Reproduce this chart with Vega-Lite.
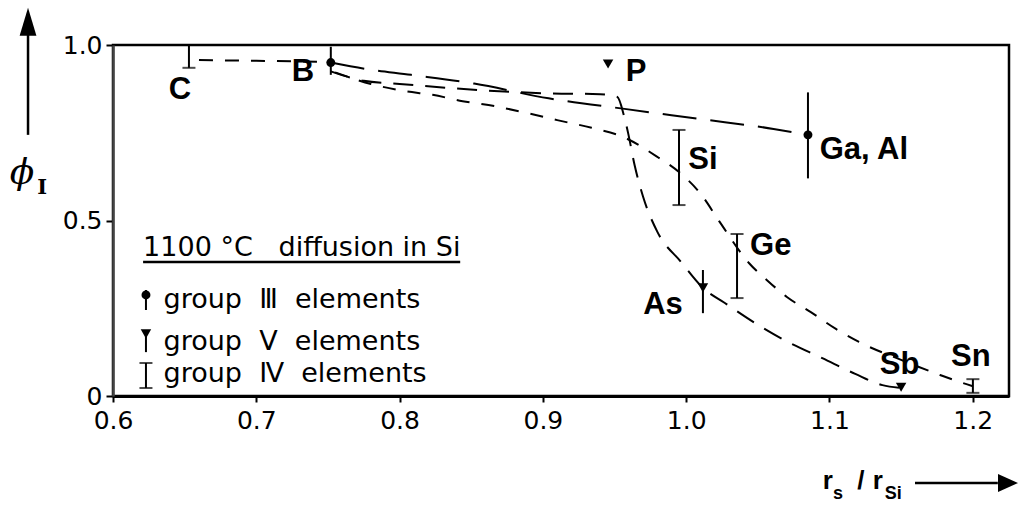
{
  "$schema": "https://vega.github.io/schema/vega-lite/v6.json",
  "width": 896,
  "height": 351,
  "autosize": {"type": "none"},
  "padding": {"left": 113, "top": 45, "right": 10, "bottom": 111},
  "background": "white",
  "config": {
    "view": {"stroke": "black", "strokeWidth": 2.5},
    "font": "Liberation Sans"
  },
  "datasets": {
    "pts": [
      {"el": "C", "grp": "IV", "x": 0.653, "y": 0.965, "lo": 0.935, "hi": 1.0},
      {"el": "B", "grp": "III", "x": 0.752, "y": 0.95, "lo": 0.915, "hi": 0.995},
      {"el": "P", "grp": "V", "x": 0.9455, "y": 0.946},
      {"el": "Si", "grp": "IV", "x": 0.995, "y": 0.65, "lo": 0.544, "hi": 0.758},
      {"el": "Ga, Al", "grp": "III", "x": 1.085, "y": 0.744, "lo": 0.62, "hi": 0.865},
      {"el": "Ge", "grp": "IV", "x": 1.0355, "y": 0.37, "lo": 0.279, "hi": 0.4615},
      {"el": "As", "grp": "V", "x": 1.0117, "y": 0.308, "lo": 0.236, "hi": 0.359},
      {"el": "Sb", "grp": "V", "x": 1.15, "y": 0.025},
      {"el": "Sn", "grp": "IV", "x": 1.2001, "y": 0.028, "lo": 0.009, "hi": 0.048},
      {"el": "key III", "grp": "III", "x": 0.623, "y": 0.288, "lo": 0.245, "hi": 0.302},
      {"el": "key V", "grp": "V", "x": 0.623, "y": 0.177, "lo": 0.125, "hi": 0.177},
      {"el": "key IV", "grp": "IV", "x": 0.623, "y": 0.06, "lo": 0.023, "hi": 0.094}
    ],
    "labels": [
      {"t": "C", "x": 0.6468, "y": 0.872},
      {"t": "B", "x": 0.7326, "y": 0.923},
      {"t": "P", "x": 0.965, "y": 0.923},
      {"t": "Si", "x": 1.0117, "y": 0.672},
      {"t": "Ga, Al", "x": 1.124, "y": 0.70},
      {"t": "Ge", "x": 1.059, "y": 0.427},
      {"t": "As", "x": 0.9838, "y": 0.259},
      {"t": "Sb", "x": 1.149, "y": 0.088},
      {"t": "Sn", "x": 1.1987, "y": 0.111}
    ],
    "curves": [
      {"c": "CB", "x": 0.66, "y": 0.957},
      {"c": "CB", "x": 0.70, "y": 0.955},
      {"c": "CB", "x": 0.745, "y": 0.952},

      {"c": "III", "x": 0.752, "y": 0.95},
      {"c": "III", "x": 0.776, "y": 0.932},
      {"c": "III", "x": 0.808, "y": 0.915},
      {"c": "III", "x": 0.852, "y": 0.89},
      {"c": "III", "x": 0.904, "y": 0.848},
      {"c": "III", "x": 0.957, "y": 0.818},
      {"c": "III", "x": 1.01, "y": 0.789},
      {"c": "III", "x": 1.061, "y": 0.761},
      {"c": "III", "x": 1.085, "y": 0.744},

      {"c": "V", "x": 0.752, "y": 0.925},
      {"c": "V", "x": 0.775, "y": 0.898},
      {"c": "V", "x": 0.80, "y": 0.889},
      {"c": "V", "x": 0.866, "y": 0.869},
      {"c": "V", "x": 0.905, "y": 0.862},
      {"c": "V", "x": 0.94, "y": 0.86},
      {"c": "V", "x": 0.952, "y": 0.852},
      {"c": "V", "x": 0.9565, "y": 0.80},
      {"c": "V", "x": 0.9595, "y": 0.749},
      {"c": "V", "x": 0.964, "y": 0.658},
      {"c": "V", "x": 0.97, "y": 0.567},
      {"c": "V", "x": 0.98, "y": 0.467},
      {"c": "V", "x": 0.9964, "y": 0.382},
      {"c": "V", "x": 1.0117, "y": 0.308},
      {"c": "V", "x": 1.027, "y": 0.265},
      {"c": "V", "x": 1.048, "y": 0.208},
      {"c": "V", "x": 1.071, "y": 0.154},
      {"c": "V", "x": 1.095, "y": 0.108},
      {"c": "V", "x": 1.118, "y": 0.063},
      {"c": "V", "x": 1.137, "y": 0.031},
      {"c": "V", "x": 1.15, "y": 0.023},

      {"c": "IV", "x": 0.755, "y": 0.922},
      {"c": "IV", "x": 0.78, "y": 0.889},
      {"c": "IV", "x": 0.803, "y": 0.869},
      {"c": "IV", "x": 0.823, "y": 0.858},
      {"c": "IV", "x": 0.844, "y": 0.84},
      {"c": "IV", "x": 0.866, "y": 0.826},
      {"c": "IV", "x": 0.889, "y": 0.806},
      {"c": "IV", "x": 0.91, "y": 0.786},
      {"c": "IV", "x": 0.934, "y": 0.764},
      {"c": "IV", "x": 0.956, "y": 0.738},
      {"c": "IV", "x": 0.98, "y": 0.681},
      {"c": "IV", "x": 0.995, "y": 0.638},
      {"c": "IV", "x": 1.0103, "y": 0.575},
      {"c": "IV", "x": 1.0229, "y": 0.499},
      {"c": "IV", "x": 1.0438, "y": 0.379},
      {"c": "IV", "x": 1.0564, "y": 0.33},
      {"c": "IV", "x": 1.0703, "y": 0.282},
      {"c": "IV", "x": 1.087, "y": 0.239},
      {"c": "IV", "x": 1.1045, "y": 0.191},
      {"c": "IV", "x": 1.1206, "y": 0.154},
      {"c": "IV", "x": 1.15, "y": 0.103},
      {"c": "IV", "x": 1.1771, "y": 0.06},
      {"c": "IV", "x": 1.193, "y": 0.037},
      {"c": "IV", "x": 1.2001, "y": 0.028}
    ],
    "keytext": [
      {"t": "1100 °C\u00a0\u00a0 diffusion in Si", "x": 0.621, "y": 0.4217},
      {"t": "group\u00a0 Ⅲ\u00a0 elements", "x": 0.6353, "y": 0.2735},
      {"t": "group\u00a0 Ⅴ\u00a0 elements", "x": 0.6353, "y": 0.154},
      {"t": "group\u00a0 Ⅳ\u00a0 elements", "x": 0.6353, "y": 0.063}
    ],
    "segs": [
      {"x": 0.621, "x2": 0.8423, "y": 0.382, "y2": 0.382},
      {"x": 0.5407, "x2": 0.5407, "y": 0.744, "y2": 1.03},
      {"x": 1.1597, "x2": 1.2175, "y": -0.248, "y2": -0.248}
    ],
    "heads": [
      {"dir": "up", "x": 0.5407, "y": 1.066},
      {"dir": "right", "x": 1.2246, "y": -0.248}
    ],
    "titles": [
      {"part": "phi", "t": "ϕ", "x": 0.5365, "y": 0.635},
      {"part": "sub", "t": "I", "x": 0.5505, "y": 0.594},
      {"part": "main", "t": "r", "x": 1.0989, "y": -0.243},
      {"part": "main", "t": "/", "x": 1.122, "y": -0.243},
      {"part": "main", "t": "r", "x": 1.1338, "y": -0.243},
      {"part": "small", "t": "s", "x": 1.1059, "y": -0.28},
      {"part": "small", "t": "Si", "x": 1.1446, "y": -0.28}
    ]
  },
  "layer": [
    {
      "data": {"name": "pts"},
      "transform": [{"filter": "isValid(datum.lo)"}],
      "mark": {"type": "rule", "color": "black", "strokeWidth": 2},
      "encoding": {
        "x": {"field": "x", "type": "quantitative", "title": null, "scale": {"domain": [0.6, 1.2253], "nice": false, "zero": false},
          "axis": {"values": [0.6, 0.7, 0.8, 0.9, 1.0, 1.1, 1.2], "format": ".1f", "title": null, "grid": false,
            "labelFont": "DejaVu Sans", "labelFontSize": 25, "labelColor": "black", "labelPadding": 6,
            "tickColor": "black", "tickSize": 6, "tickWidth": 2, "domainColor": "black", "domainWidth": 3, "labelFlush": false}},
        "y": {"field": "lo", "type": "quantitative", "title": null, "scale": {"domain": [0, 1], "nice": false, "zero": false},
          "axis": {"values": [0, 0.5, 1.0], "labelExpr": "datum.value == 0 ? '0' : format(datum.value, '.1f')", "title": null, "grid": false,
            "labelFont": "DejaVu Sans", "labelFontSize": 25, "labelColor": "black", "labelPadding": 4,
            "tickColor": "black", "tickSize": 7, "tickWidth": 2, "domainColor": "#444", "domainWidth": 2.5}},
        "y2": {"field": "hi"}
      }
    },
    {
      "data": {"name": "pts"},
      "transform": [{"filter": "datum.grp == 'IV'"}],
      "mark": {"type": "tick", "orient": "horizontal", "color": "black", "size": 13, "thickness": 2},
      "encoding": {
        "x": {"field": "x", "type": "quantitative", "title": null, "scale": {"domain": [0.6, 1.2253], "nice": false, "zero": false}},
        "y": {"field": "lo", "type": "quantitative", "title": null, "scale": {"domain": [0, 1], "nice": false, "zero": false}}
      }
    },
    {
      "data": {"name": "pts"},
      "transform": [{"filter": "datum.grp == 'IV'"}],
      "mark": {"type": "tick", "orient": "horizontal", "color": "black", "size": 13, "thickness": 2},
      "encoding": {
        "x": {"field": "x", "type": "quantitative", "title": null, "scale": {"domain": [0.6, 1.2253], "nice": false, "zero": false}},
        "y": {"field": "hi", "type": "quantitative", "title": null, "scale": {"domain": [0, 1], "nice": false, "zero": false}}
      }
    },
    {
      "data": {"name": "pts"},
      "transform": [{"filter": "datum.grp == 'III'"}],
      "mark": {"type": "point", "shape": "circle", "filled": true, "color": "black", "size": 80, "opacity": 1},
      "encoding": {
        "x": {"field": "x", "type": "quantitative", "title": null, "scale": {"domain": [0.6, 1.2253], "nice": false, "zero": false}},
        "y": {"field": "y", "type": "quantitative", "title": null, "scale": {"domain": [0, 1], "nice": false, "zero": false}}
      }
    },
    {
      "data": {"name": "pts"},
      "transform": [{"filter": "datum.grp == 'V'"}],
      "mark": {"type": "point", "shape": "triangle-down", "filled": true, "color": "black", "size": 110, "opacity": 1},
      "encoding": {
        "x": {"field": "x", "type": "quantitative", "title": null, "scale": {"domain": [0.6, 1.2253], "nice": false, "zero": false}},
        "y": {"field": "y", "type": "quantitative", "title": null, "scale": {"domain": [0, 1], "nice": false, "zero": false}}
      }
    },
    {
      "mark": {"type": "rule", "color": "black", "strokeWidth": 2.2, "strokeDash": [20, 13]},
      "encoding": {
        "y": {"datum": 0.5, "type": "quantitative", "title": null, "scale": {"domain": [0, 1], "nice": false, "zero": false}}
      }
    },
    {
      "data": {"name": "curves"},
      "transform": [{"filter": "datum.c == 'CB'"}],
      "mark": {"type": "line", "color": "black", "strokeWidth": 2, "strokeDash": [14, 12], "interpolate": "monotone"},
      "encoding": {
        "x": {"field": "x", "type": "quantitative", "title": null, "scale": {"domain": [0.6, 1.2253], "nice": false, "zero": false}},
        "y": {"field": "y", "type": "quantitative", "title": null, "scale": {"domain": [0, 1], "nice": false, "zero": false}}
      }
    },
    {
      "data": {"name": "curves"},
      "transform": [{"filter": "datum.c == 'III'"}],
      "mark": {"type": "line", "color": "black", "strokeWidth": 2, "strokeDash": [34, 14], "interpolate": "monotone"},
      "encoding": {
        "x": {"field": "x", "type": "quantitative", "title": null, "scale": {"domain": [0.6, 1.2253], "nice": false, "zero": false}},
        "y": {"field": "y", "type": "quantitative", "title": null, "scale": {"domain": [0, 1], "nice": false, "zero": false}}
      }
    },
    {
      "data": {"name": "curves"},
      "transform": [{"filter": "datum.c == 'V'"}],
      "mark": {"type": "line", "color": "black", "strokeWidth": 2, "strokeDash": [20, 12], "interpolate": "monotone"},
      "encoding": {
        "x": {"field": "x", "type": "quantitative", "title": null, "scale": {"domain": [0.6, 1.2253], "nice": false, "zero": false}},
        "y": {"field": "y", "type": "quantitative", "title": null, "scale": {"domain": [0, 1], "nice": false, "zero": false}}
      }
    },
    {
      "data": {"name": "curves"},
      "transform": [{"filter": "datum.c == 'IV'"}],
      "mark": {"type": "line", "color": "black", "strokeWidth": 2, "strokeDash": [13, 12], "interpolate": "monotone"},
      "encoding": {
        "x": {"field": "x", "type": "quantitative", "title": null, "scale": {"domain": [0.6, 1.2253], "nice": false, "zero": false}},
        "y": {"field": "y", "type": "quantitative", "title": null, "scale": {"domain": [0, 1], "nice": false, "zero": false}}
      }
    },
    {
      "data": {"name": "labels"},
      "mark": {"type": "text", "font": "Liberation Sans", "fontWeight": "bold", "fontSize": 31, "align": "center", "baseline": "middle", "color": "black"},
      "encoding": {
        "x": {"field": "x", "type": "quantitative", "title": null, "scale": {"domain": [0.6, 1.2253], "nice": false, "zero": false}},
        "y": {"field": "y", "type": "quantitative", "title": null, "scale": {"domain": [0, 1], "nice": false, "zero": false}},
        "text": {"field": "t"}
      }
    },
    {
      "data": {"name": "keytext"},
      "mark": {"type": "text", "font": "DejaVu Sans", "fontSize": 27, "align": "left", "baseline": "middle", "color": "black"},
      "encoding": {
        "x": {"field": "x", "type": "quantitative", "title": null, "scale": {"domain": [0.6, 1.2253], "nice": false, "zero": false}},
        "y": {"field": "y", "type": "quantitative", "title": null, "scale": {"domain": [0, 1], "nice": false, "zero": false}},
        "text": {"field": "t"}
      }
    },
    {
      "data": {"name": "segs"},
      "mark": {"type": "rule", "color": "black", "strokeWidth": 2.5, "clip": false},
      "encoding": {
        "x": {"field": "x", "type": "quantitative", "title": null, "scale": {"domain": [0.6, 1.2253], "nice": false, "zero": false}},
        "x2": {"field": "x2"},
        "y": {"field": "y", "type": "quantitative", "title": null, "scale": {"domain": [0, 1], "nice": false, "zero": false}},
        "y2": {"field": "y2"}
      }
    },
    {
      "data": {"name": "heads"},
      "transform": [{"filter": "datum.dir == 'up'"}],
      "mark": {"type": "point", "shape": "M0,-1L0.6,1L-0.6,1Z", "filled": true, "color": "black", "size": 784, "opacity": 1, "clip": false},
      "encoding": {
        "x": {"field": "x", "type": "quantitative", "title": null, "scale": {"domain": [0.6, 1.2253], "nice": false, "zero": false}},
        "y": {"field": "y", "type": "quantitative", "title": null, "scale": {"domain": [0, 1], "nice": false, "zero": false}}
      }
    },
    {
      "data": {"name": "heads"},
      "transform": [{"filter": "datum.dir == 'right'"}],
      "mark": {"type": "point", "shape": "M1,0L-1,0.9L-1,-0.9Z", "filled": true, "color": "black", "size": 400, "opacity": 1, "clip": false},
      "encoding": {
        "x": {"field": "x", "type": "quantitative", "title": null, "scale": {"domain": [0.6, 1.2253], "nice": false, "zero": false}},
        "y": {"field": "y", "type": "quantitative", "title": null, "scale": {"domain": [0, 1], "nice": false, "zero": false}}
      }
    },
    {
      "data": {"name": "titles"},
      "transform": [{"filter": "datum.part == 'phi'"}],
      "mark": {"type": "text", "font": "DejaVu Serif", "fontStyle": "italic", "fontSize": 36, "align": "center", "baseline": "middle", "color": "black", "clip": false},
      "encoding": {
        "x": {"field": "x", "type": "quantitative", "title": null, "scale": {"domain": [0.6, 1.2253], "nice": false, "zero": false}},
        "y": {"field": "y", "type": "quantitative", "title": null, "scale": {"domain": [0, 1], "nice": false, "zero": false}},
        "text": {"field": "t"}
      }
    },
    {
      "data": {"name": "titles"},
      "transform": [{"filter": "datum.part == 'sub'"}],
      "mark": {"type": "text", "font": "DejaVu Serif", "fontWeight": "bold", "fontSize": 21, "align": "center", "baseline": "middle", "color": "black", "clip": false},
      "encoding": {
        "x": {"field": "x", "type": "quantitative", "title": null, "scale": {"domain": [0.6, 1.2253], "nice": false, "zero": false}},
        "y": {"field": "y", "type": "quantitative", "title": null, "scale": {"domain": [0, 1], "nice": false, "zero": false}},
        "text": {"field": "t"}
      }
    },
    {
      "data": {"name": "titles"},
      "transform": [{"filter": "datum.part == 'main'"}],
      "mark": {"type": "text", "font": "Liberation Sans", "fontWeight": "bold", "fontSize": 26, "align": "center", "baseline": "middle", "color": "black", "clip": false},
      "encoding": {
        "x": {"field": "x", "type": "quantitative", "title": null, "scale": {"domain": [0.6, 1.2253], "nice": false, "zero": false}},
        "y": {"field": "y", "type": "quantitative", "title": null, "scale": {"domain": [0, 1], "nice": false, "zero": false}},
        "text": {"field": "t"}
      }
    },
    {
      "data": {"name": "titles"},
      "transform": [{"filter": "datum.part == 'small'"}],
      "mark": {"type": "text", "font": "Liberation Sans", "fontWeight": "bold", "fontSize": 18, "align": "center", "baseline": "middle", "color": "black", "clip": false},
      "encoding": {
        "x": {"field": "x", "type": "quantitative", "title": null, "scale": {"domain": [0.6, 1.2253], "nice": false, "zero": false}},
        "y": {"field": "y", "type": "quantitative", "title": null, "scale": {"domain": [0, 1], "nice": false, "zero": false}},
        "text": {"field": "t"}
      }
    }
  ]
}
